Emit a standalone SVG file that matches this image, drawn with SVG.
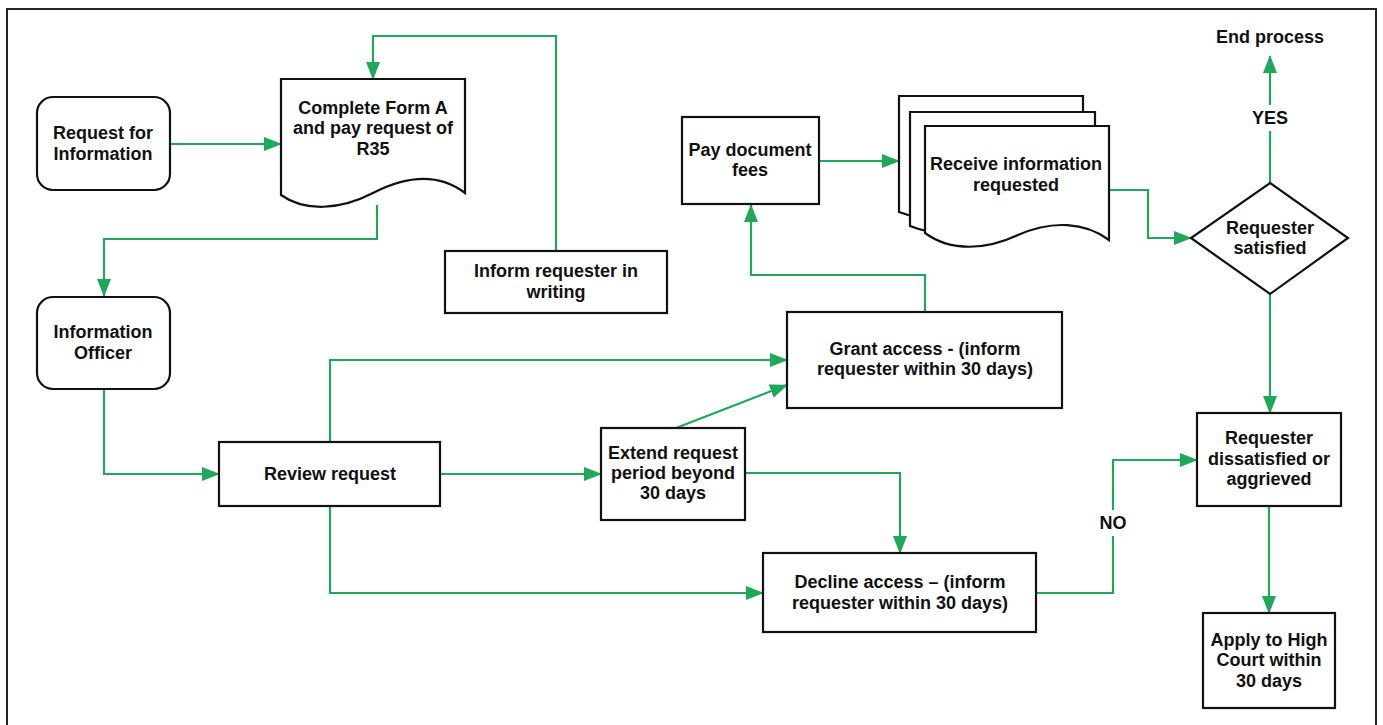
<svg xmlns="http://www.w3.org/2000/svg" width="1383" height="725" viewBox="0 0 1383 725">
<style>
.n{fill:#fff;stroke:#111;stroke-width:2.2}
.c{fill:none;stroke:#1fa85a;stroke-width:2.2}
.t{font-family:"Liberation Sans",Arial,sans-serif;font-weight:bold;font-size:18px;fill:#111;text-anchor:middle}
</style>
<defs>
<marker id="ah" markerWidth="18" markerHeight="14" refX="17" refY="7" orient="auto" markerUnits="userSpaceOnUse">
<path d="M0,0 L18,7 L0,14 z" fill="#1fa85a"/>
</marker>
</defs>
<rect width="1383" height="725" fill="#fff"/>
<path d="M7,725 V9 H1376 V725" fill="none" stroke="#222" stroke-width="2"/>

<g id="connectors">
<path class="c" d="M170,144 H281" marker-end="url(#ah)"/>
<path class="c" d="M556,251 V36 H373 V79" marker-end="url(#ah)"/>
<path class="c" d="M377,205 V239 H104 V296" marker-end="url(#ah)"/>
<path class="c" d="M104,389 V474 H219" marker-end="url(#ah)"/>
<path class="c" d="M330,442 V360 H787" marker-end="url(#ah)"/>
<path class="c" d="M440,474 H601" marker-end="url(#ah)"/>
<path class="c" d="M676,428 L787,385" marker-end="url(#ah)"/>
<path class="c" d="M745,473 H900 V553" marker-end="url(#ah)"/>
<path class="c" d="M330,506 V593 H763" marker-end="url(#ah)"/>
<path class="c" d="M1036,593 H1113 V536"/>
<path class="c" d="M1113,510 V460 H1197" marker-end="url(#ah)"/>
<path class="c" d="M1269,506 V613" marker-end="url(#ah)"/>
<path class="c" d="M1270,294 V413" marker-end="url(#ah)"/>
<path class="c" d="M1270,183 V131"/>
<path class="c" d="M1270,105 V56" marker-end="url(#ah)"/>
<path class="c" d="M1109,190 H1148 V238 H1191" marker-end="url(#ah)"/>
<path class="c" d="M819,161 H899" marker-end="url(#ah)"/>
<path class="c" d="M925,312 V275 H751 V205" marker-end="url(#ah)"/>
<text class="t" x="1113" y="529">NO</text>
<text class="t" x="1270" y="124">YES</text>
</g>

<g id="request-info">
<rect class="n" x="37" y="97" width="133" height="93" rx="16"/>
<text class="t" x="103" y="139">Request for</text>
<text class="t" x="103" y="160">Information</text>
</g>

<g id="complete-form">
<path class="n" d="M281,79 H465 V193 C440,174 408,175 373,193 C340,210 305,212 281,195 Z"/>
<text class="t" x="373" y="114">Complete Form A</text>
<text class="t" x="373" y="134">and pay request of</text>
<text class="t" x="373" y="155">R35</text>
</g>

<g id="info-officer">
<rect class="n" x="37" y="297" width="133" height="92" rx="16"/>
<text class="t" x="103" y="338">Information</text>
<text class="t" x="103" y="359">Officer</text>
</g>

<g id="inform-writing">
<rect class="n" x="445" y="251" width="222" height="62"/>
<text class="t" x="556" y="277">Inform requester in</text>
<text class="t" x="556" y="298">writing</text>
</g>

<g id="review">
<rect class="n" x="219" y="442" width="221" height="64"/>
<text class="t" x="330" y="480">Review request</text>
</g>

<g id="grant">
<rect class="n" x="787" y="312" width="275" height="96"/>
<text class="t" x="925" y="355">Grant access - (inform</text>
<text class="t" x="925" y="375">requester within 30 days)</text>
</g>

<g id="extend">
<rect class="n" x="601" y="428" width="144" height="92"/>
<text class="t" x="673" y="459">Extend request</text>
<text class="t" x="673" y="479">period beyond</text>
<text class="t" x="673" y="499">30 days</text>
</g>

<g id="decline">
<rect class="n" x="763" y="553" width="273" height="79"/>
<text class="t" x="900" y="588">Decline access – (inform</text>
<text class="t" x="900" y="609">requester within 30 days)</text>
</g>

<g id="pay-fees">
<rect class="n" x="682" y="117" width="137" height="87"/>
<text class="t" x="750" y="156">Pay document</text>
<text class="t" x="750" y="176">fees</text>
</g>

<g id="receive-info">
<path class="n" d="M899,96 H1083 V210 C1059,192 1026,190 992,205 C960,220 925,222 899,212 Z"/>
<path class="n" d="M910,112 H1095 V225 C1071,207 1038,205 1004,220 C972,235 937,237 910,226 Z"/>
<path class="n" d="M925,126 H1109 V240 C1085,222 1052,220 1018,235 C986,250 951,252 925,233 Z"/>
<text class="t" x="1016" y="170">Receive information</text>
<text class="t" x="1016" y="191">requested</text>
</g>

<g id="satisfied">
<path class="n" d="M1270,183 L1348,238 L1270,294 L1191,238 Z"/>
<text class="t" x="1270" y="234">Requester</text>
<text class="t" x="1270" y="254">satisfied</text>
</g>

<g id="end">
<text class="t" x="1270" y="43">End process</text>
</g>

<g id="dissatisfied">
<rect class="n" x="1197" y="413" width="144" height="93"/>
<text class="t" x="1269" y="444">Requester</text>
<text class="t" x="1269" y="465">dissatisfied or</text>
<text class="t" x="1269" y="485">aggrieved</text>
</g>

<g id="high-court">
<rect class="n" x="1203" y="613" width="132" height="95"/>
<text class="t" x="1269" y="646">Apply to High</text>
<text class="t" x="1269" y="666">Court within</text>
<text class="t" x="1269" y="687">30 days</text>
</g>
</svg>
